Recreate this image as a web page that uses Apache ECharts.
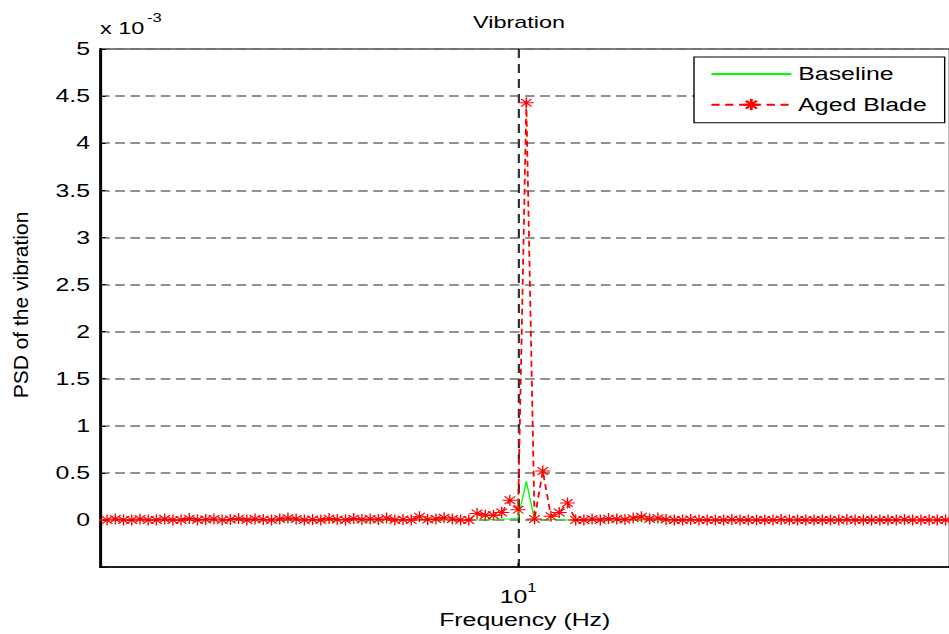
<!DOCTYPE html>
<html>
<head>
<meta charset="utf-8">
<title>Vibration</title>
<script src="https://cdn.jsdelivr.net/npm/echarts@6.0.0/dist/echarts.min.js"></script>
<style>
    html, body { margin: 0; padding: 0; background: #fff; overflow: hidden; }
    #wrap { width: 949px; height: 634px; overflow: hidden; }
    /* the reference figure is stretched sideways, so the chart is drawn narrow and scaled */
    #chart { width: 688px; height: 634px; transform: scaleX(1.38); transform-origin: 0 0; }
</style>
</head>
<body>
<div id="wrap"><div id="chart"></div></div>
<script>
'use strict';

var STRETCH = 1.38,
    FONT = '"Liberation Sans", Arial, Helvetica, sans-serif';

// frequency grid (Hz), log spaced
var freqs = [
    1.4125, 1.4678, 1.5252, 1.5849, 1.6469, 1.7113, 1.7783, 1.8478, 1.9201, 1.9953,
    2.0733, 2.1544, 2.2387, 2.3263, 2.4172, 2.5119, 2.6102, 2.7123, 2.8184, 2.9286,
    3.0432, 3.1623, 3.2860, 3.4145, 3.5481, 3.6869, 3.8312, 3.9811, 4.1369, 4.2987,
    4.4668, 4.6416, 4.8232, 5.0119, 5.2080, 5.4117, 5.6234, 5.8434, 6.0719, 6.3096,
    6.5564, 6.8129, 7.0795, 7.3564, 7.6442, 7.9433, 8.2540, 8.5770, 8.9125, 9.2611,
    9.6235, 10.000, 10.391, 10.797, 11.220, 11.659, 12.115, 12.589, 13.081, 13.594,
    14.125, 14.678, 15.252, 15.849, 16.469, 17.113, 17.783, 18.478, 19.201, 19.953,
    20.733, 21.544, 22.387, 23.263, 24.172, 25.119, 26.102, 27.123, 28.184, 29.286,
    30.432, 31.623, 32.860, 34.145, 35.481, 36.869, 38.312, 39.811, 41.369, 42.987,
    44.668, 46.416, 48.232, 50.119, 52.080, 54.117, 56.234, 58.434, 60.719, 63.096,
    65.564, 68.129, 70.795, 73.564, 76.442
];

// PSD values, in units of 1e-3
var baselinePsd = [
    0, 0, 0, 0, 0, 0, 0, 0, 0, 0,
    0, 0, 0, 0, 0, 0, 0, 0, 0, 0,
    0, 0, 0, 0, 0, 0, 0, 0, 0, 0,
    0, 0, 0, 0, 0, 0, 0, 0, 0, 0,
    0, 0, 0, 0, 0, 0, 0, 0, 0.005, 0.01,
    0.01, 0.02, 0.41, 0, 0.005, 0.005, 0.005, 0, 0, 0,
    0, 0, 0, 0, 0, 0, 0, 0, 0, 0,
    0, 0, 0, 0, 0, 0, 0, 0, 0, 0,
    0, 0, 0, 0, 0, 0, 0, 0, 0, 0,
    0, 0, 0, 0, 0, 0, 0, 0, 0, 0,
    0, 0, 0, 0, 0
];

var agedPsd = [
    0, 0, 0.01, 0, 0, 0.01, 0, 0, 0.01, 0,
    0, 0.015, 0, 0.005, 0.01, 0, 0.005, 0.015, 0, 0.01,
    0.005, 0, 0.01, 0.02, 0.01, 0, 0.005, 0, 0.015, 0.005,
    0, 0.015, 0.005, 0.01, 0.005, 0.02, 0, 0.005, 0, 0.035,
    0.005, 0.01, 0.025, 0.01, 0, 0, 0.07, 0.05, 0.05, 0.08,
    0.21, 0.11, 4.43, 0.01, 0.52, 0.04, 0.08, 0.18, 0, 0,
    0.01, 0, 0.015, 0.01, 0.005, 0.02, 0.035, 0.01, 0.02, 0.005,
    0, 0, 0.005, 0, 0, 0, 0, 0.005, 0, 0,
    0, 0, 0, 0.005, 0, 0, 0, 0, 0, 0,
    0, 0.005, 0, 0, 0, 0, 0, 0, 0.005, 0,
    0, 0, 0, 0, 0
];

var seriesNames = ['Baseline', 'Aged Blade'];
var yTickStep = 0.5;

// matlab style '*' marker
var STAR = 'path://M0,5L10,5M5,0L5,10M1.5,1.5L8.5,8.5M1.5,8.5L8.5,1.5';

// reference pixel x -> chart pixel x (before the css stretch)
function ux(x) {
    return x / STRETCH;
}

function pairs(ys) {
    return freqs.map(function(f, i) {
        return [f, ys[i]];
    });
}

var chart = echarts.init(document.getElementById('chart'), null, { renderer: 'svg' });

var option = {
    animation: false,
    backgroundColor: '#fff',
    grid: {
        left: ux(100),
        right: 688 - ux(951),
        top: 49,
        bottom: 66,
        show: true,
        borderColor: '#000',
        borderWidth: 1
    },
    xAxis: {
        type: 'log',
        logBase: 10,
        min: 1.42,
        max: 74.9,
        name: 'Frequency (Hz)',
        nameLocation: 'middle',
        nameGap: 41,
        nameTextStyle: { fontFamily: FONT, fontSize: 18, color: '#000' },
        axisLine: { show: true, onZero: false, lineStyle: { color: '#000', width: 1.5 } },
        axisTick: { show: true, inside: true, length: 4, lineStyle: { color: '#000' } },
        minorTick: { show: false },
        axisLabel: {
            showMinLabel: false,
            showMaxLabel: false,
            margin: 15,
            formatter: function(v) {
                return Math.abs(Math.log10(v) - 1) < 1e-6 ? '{b|10}{s|1}' : '';
            },
            rich: {
                b: { fontFamily: FONT, fontSize: 18, color: '#000', lineHeight: 24, verticalAlign: 'bottom' },
                s: { fontFamily: FONT, fontSize: 12, color: '#000', lineHeight: 12, verticalAlign: 'top' }
            }
        },
        splitLine: {
            show: true,
            showMinLine: false,
            showMaxLine: false,
            lineStyle: { type: [9, 6], color: '#333', width: 1.6 }
        }
    },
    yAxis: {
        type: 'value',
        min: -0.5,
        max: 5,
        interval: yTickStep,
        axisLine: { show: true, onZero: false, lineStyle: { color: '#000', width: 2 } },
        axisTick: { show: true, inside: true, length: 4, lineStyle: { color: '#000' } },
        axisLabel: {
            fontFamily: FONT,
            fontSize: 18,
            color: '#000',
            margin: ux(100) - ux(90),
            formatter: function(v) {
                return v < 0 ? '' : String(v);
            }
        },
        splitLine: { show: true, lineStyle: { type: [7, 4], color: '#6e6e6e', width: 1.6 } }
    },
    legend: {
        orient: 'vertical',
        left: ux(694),
        top: 57,
        padding: [8, 13, 9, ux(710) - ux(694)],
        backgroundColor: '#fff',
        borderColor: '#000',
        borderWidth: 1,
        borderRadius: 0,
        itemWidth: ux(790) - ux(710),
        itemHeight: 14,
        itemGap: 12.7,
        textStyle: { fontFamily: FONT, fontSize: 18, color: '#000' },
        data: [
            { name: seriesNames[0], itemStyle: { opacity: 0 } },
            { name: seriesNames[1] }
        ]
    },
    graphic: [
        {   // title
            type: 'text',
            x: ux(519),
            y: 22,
            style: { text: 'Vibration', fontFamily: FONT, fontSize: 17, fill: '#000',
                textAlign: 'center', textVerticalAlign: 'middle' }
        },
        {   // y multiplier
            type: 'text',
            x: ux(100),
            y: 28,
            style: { text: 'x 10', fontFamily: FONT, fontSize: 17, fill: '#000',
                textAlign: 'left', textVerticalAlign: 'middle' }
        },
        {
            type: 'text',
            x: ux(147),
            y: 18,
            style: { text: '-3', fontFamily: FONT, fontSize: 12, fill: '#000',
                textAlign: 'left', textVerticalAlign: 'middle' }
        },
        {   // y axis name, squeezed so the css stretch leaves it upright-looking
            type: 'text',
            x: ux(20.7),
            y: 305,
            rotation: Math.PI / 2,
            scaleY: 1 / STRETCH,
            style: { text: 'PSD of the vibration', fontFamily: FONT, fontSize: 21, fill: '#000',
                textAlign: 'center', textVerticalAlign: 'middle' }
        }
    ],
    series: [
        {
            name: seriesNames[0],
            type: 'line',
            data: pairs(baselinePsd),
            symbol: 'none',
            silent: true,
            lineStyle: { color: '#00ff00', width: 1 },
            itemStyle: { color: '#00ff00' },
            z: 2
        },
        {
            name: seriesNames[1],
            type: 'line',
            data: pairs(agedPsd),
            symbol: STAR,
            symbolSize: 11,
            showAllSymbol: true,
            silent: true,
            lineStyle: { color: '#ff0000', width: 1.3, type: [6, 4] },
            itemStyle: { color: '#ff0000', borderColor: '#ff0000', borderWidth: 1 },
            z: 3
        }
    ]
};

chart.setOption(option);
</script>
</body>
</html>
